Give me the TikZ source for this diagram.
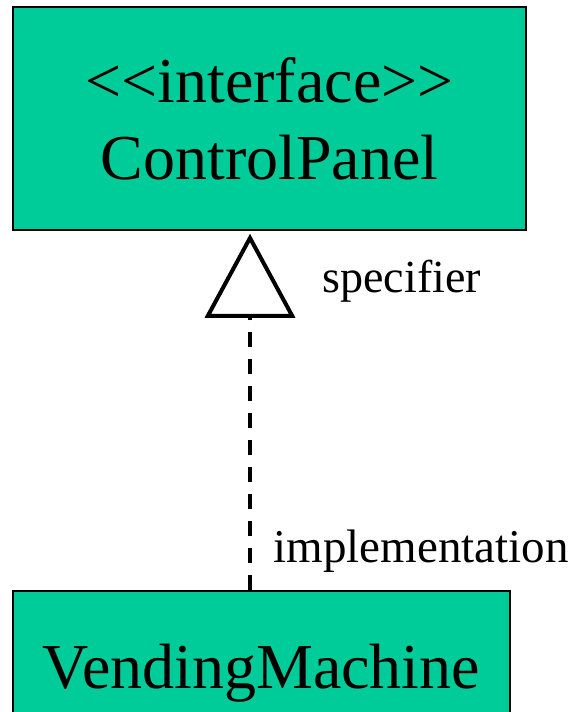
\documentclass[tikz,border=0pt]{standalone}
\usepackage{fontspec}
\setmainfont{Liberation Serif}
\usetikzlibrary{arrows.meta}
\definecolor{verdeuml}{RGB}{0,204,153}
\begin{document}
\begin{tikzpicture}[x=1pt,y=-1pt,
	clase/.style={draw,fill=verdeuml,line width=1.5pt,inner sep=0pt,align=center,font=\fontsize{64}{77}\selectfont},
	etiqueta/.style={anchor=base west,font=\fontsize{46}{56}\selectfont},
	realiza/.style={line width=4pt,dash pattern=on 15pt off 12pt,shorten >=3pt,-{Triangle[open,length=84pt,width=90pt,line join=miter]}}]
	\clip (0,0) rectangle (578,712);
	\node [clase,minimum width=513pt,minimum height=223pt] (panel) at (269.5,118.5) {<{}<interface>{}>\\ControlPanel};
	\node [clase,minimum width=497pt,minimum height=164pt] (maquina) at (261.5,673) {VendingMachine};
	\coordinate (eje) at (250,0);
	\draw [realiza] (maquina.north -| eje) -- (panel.south -| eje);
	\node [etiqueta] (especificador) at (319,292) {specifier};
	\node [etiqueta,font=\fontsize{47}{56}\selectfont] (implementacion) at (270,562) {implementation};
\end{tikzpicture}
\end{document}
